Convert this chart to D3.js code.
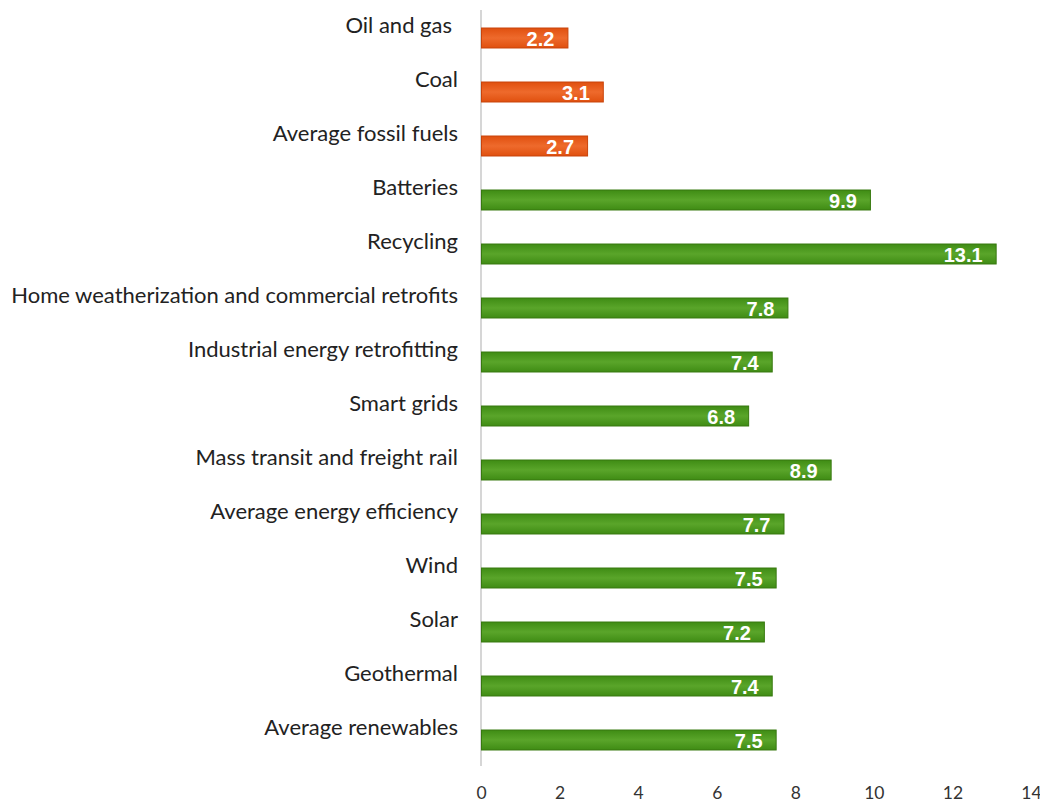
<!DOCTYPE html>
<html lang="en">
<head>
    <meta charset="UTF-8">
    <title>Jobs per $1 million</title>
    <script src="https://cdn.jsdelivr.net/npm/d3@7"></script>
</head>
<style>
    body { margin: 0; background: #fff; }
</style>
<body>
</body>
</html>
<script>

    // data
    var categories = ["Oil and gas", "Coal", "Average fossil fuels", "Batteries", "Recycling",
        "Home weatherization and commercial retrofits", "Industrial energy retrofitting",
        "Smart grids", "Mass transit and freight rail", "Average energy efficiency",
        "Wind", "Solar", "Geothermal", "Average renewables"];
    var values = [2.2, 3.1, 2.7, 9.9, 13.1, 7.8, 7.4, 6.8, 8.9, 7.7, 7.5, 7.2, 7.4, 7.5];
    var groups = ["fossil", "fossil", "fossil", "clean", "clean", "clean", "clean",
        "clean", "clean", "clean", "clean", "clean", "clean", "clean"];
    var tickValues = [0, 2, 4, 6, 8, 10, 12, 14];

    var w = 1040;
    var h = 803;

    var svg = d3.select("body")
            .append("svg")
            .attr("width", w)
            .attr("height", h);

    var defs = svg.append("defs");
    function grad(id, edge, mid) {
        var g = defs.append("linearGradient").attr("id", id)
                .attr("x1", 0).attr("y1", 0).attr("x2", 0).attr("y2", 1);
        g.append("stop").attr("offset", "0%").attr("stop-color", edge);
        g.append("stop").attr("offset", "50%").attr("stop-color", mid);
        g.append("stop").attr("offset", "100%").attr("stop-color", edge);
    }
    grad("gFossil", "#e0500f", "#ee6a2c");
    grad("gClean", "#3f8c14", "#5aa52a");

    var x = d3.scaleLinear().domain([0, 14]).range([481, 1031]);
    var y = d3.scaleBand().domain(categories).range([11, 767]).paddingInner(0.63).paddingOuter(0.315);

    // vertical axis line
    svg.append("line")
            .attr("x1", x(0)).attr("x2", x(0))
            .attr("y1", 10).attr("y2", 766)
            .attr("stroke", "#c8c8c8")
            .attr("stroke-width", 1.5);

    svg.selectAll("rect.bar")
            .data(values)
            .enter()
            .append("rect")
            .attr("class", "bar")
            .attr("x", x(0) + 0.5)
            .attr("y", function (d, i) { return y(categories[i]); })
            .attr("width", function (d) { return x(d) - x(0); })
            .attr("height", y.bandwidth())
            .attr("fill", function (d, i) { return groups[i] == "fossil" ? "url(#gFossil)" : "url(#gClean)"; })
            .attr("stroke", function (d, i) { return groups[i] == "fossil" ? "#c9440b" : "#37790f"; })
            .attr("stroke-width", 1);

    // value labels inside bars
    svg.selectAll("text.val")
            .data(values)
            .enter()
            .append("text")
            .attr("class", "val")
            .text(function (d) { return d.toFixed(1); })
            .attr("x", function (d) { return x(d) - 13; })
            .attr("y", function (d, i) { return y(categories[i]) + y.bandwidth() / 2 + 8; })
            .attr("font-family", "Liberation Sans, Arial, sans-serif")
            .attr("font-weight", "bold")
            .attr("font-size", "20px")
            .attr("fill", "white")
            .attr("text-anchor", "end");

    // category labels, sit a little above the bar centre
    svg.selectAll("text.cat")
            .data(categories)
            .enter()
            .append("text")
            .attr("class", "cat")
            .text(function (d) { return d; })
            .attr("x", function (d) { return d == "Oil and gas" ? 452 : 458; })
            .attr("y", function (d) { return y(d) + y.bandwidth() / 2 - 5; })
            .attr("font-family", "Lato, Open Sans, sans-serif")
            .attr("font-size", "22px")
            .attr("fill", "#222")
            .attr("text-anchor", "end");

    // x axis tick labels
    var xAxis = d3.axisBottom(x).tickValues(tickValues).tickSize(0).tickPadding(0);
    var ax = svg.append("g")
            .attr("transform", "translate(0,787)")
            .call(xAxis);
    ax.select(".domain").remove();
    ax.selectAll("text")
            .attr("font-family", "Lato, Open Sans, sans-serif")
            .attr("font-size", "17.5px")
            .attr("fill", "#333");
</script>
